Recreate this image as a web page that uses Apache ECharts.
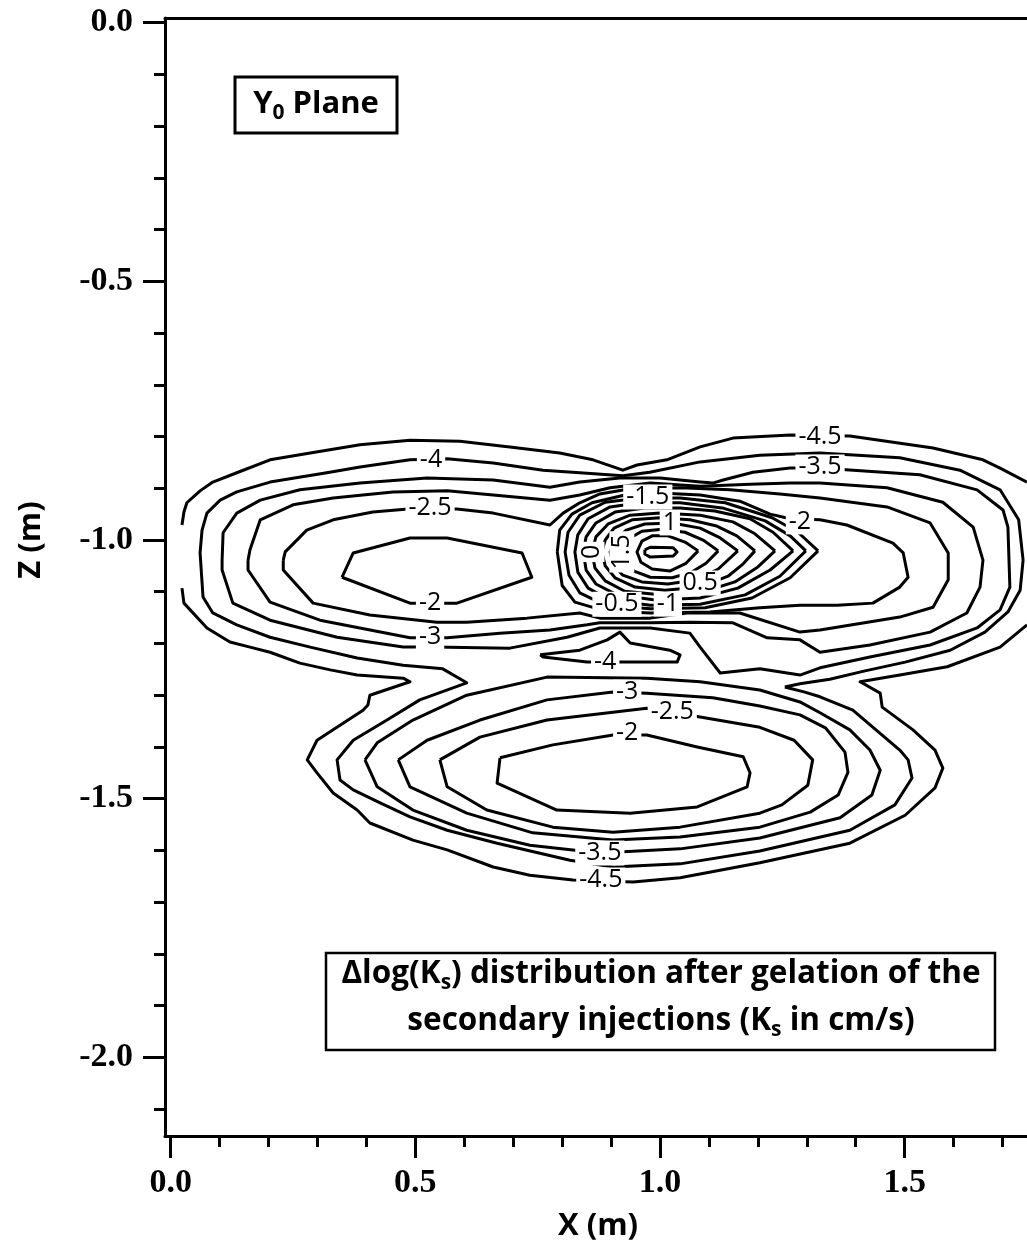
<!DOCTYPE html>
<html>
<head>
<meta charset="utf-8">
<script src="https://cdn.jsdelivr.net/npm/echarts@6/dist/echarts.min.js"></script>
<style>
  html, body { margin: 0; padding: 0; background: #fff; }
  #chart { width: 1027px; height: 1246px; }
</style>
</head>
<body>
<div id="chart"></div>
<script>
// ---- Axis extents and ticks (metres) ----
const xRange = [-0.0117, 1.75];
const zRange = [-2.152, 0.009];
const xMajorTicks = [0, 0.5, 1.0, 1.5];
const xMinorTicks = [0, 0.1, 0.2, 0.3, 0.4, 0.5, 0.6, 0.7, 0.8, 0.9, 1.0, 1.1, 1.2, 1.3, 1.4, 1.5, 1.6, 1.7];
const zMajorTicks = [0, -0.5, -1.0, -1.5, -2.0];
const zMinorTicks = [0, -0.1, -0.2, -0.3, -0.4, -0.5, -0.6, -0.7, -0.8, -0.9, -1.0, -1.1, -1.2, -1.3, -1.4, -1.5, -1.6, -1.7, -1.8, -1.9, -2.0, -2.1];

// ---- Contour polylines of delta log(Ks), each as [x, z] pairs ----
// -4.5 level: upper branch and lower branch, both cut by the domain edges
const c_m45_upper = [[0.023,-0.971],[0.027,-0.946],[0.033,-0.928],[0.060,-0.905],[0.086,-0.888],[0.135,-0.870],[0.203,-0.845],[0.285,-0.832],[0.387,-0.816],[0.489,-0.807],[0.591,-0.809],[0.693,-0.820],[0.795,-0.832],[0.863,-0.845],[0.924,-0.865],[0.953,-0.855],[1.014,-0.845],[1.082,-0.820],[1.149,-0.803],[1.266,-0.797],[1.388,-0.799],[1.558,-0.822],[1.660,-0.845],[1.695,-0.861],[1.750,-0.888]];
const c_m45_lower = [[0.023,-1.093],[0.027,-1.122],[0.074,-1.170],[0.121,-1.197],[0.162,-1.207],[0.203,-1.217],[0.264,-1.238],[0.326,-1.251],[0.381,-1.261],[0.475,-1.267],[0.489,-1.274],[0.407,-1.300],[0.403,-1.319],[0.393,-1.329],[0.299,-1.387],[0.279,-1.425],[0.299,-1.450],[0.332,-1.489],[0.381,-1.522],[0.407,-1.547],[0.495,-1.580],[0.565,-1.599],[0.659,-1.632],[0.734,-1.648],[0.822,-1.657],[0.945,-1.661],[1.041,-1.653],[1.204,-1.624],[1.388,-1.586],[1.501,-1.532],[1.562,-1.479],[1.578,-1.441],[1.562,-1.406],[1.517,-1.367],[1.454,-1.323],[1.450,-1.296],[1.409,-1.274],[1.490,-1.261],[1.587,-1.245],[1.695,-1.207],[1.750,-1.164]];
// -4 level: closed line around all lobes, and the small pocket between them
const c_m4_outer = [[1.255,-1.284],[1.286,-1.278],[1.347,-1.269],[1.419,-1.253],[1.501,-1.236],[1.593,-1.213],[1.664,-1.178],[1.711,-1.139],[1.736,-1.097],[1.742,-1.039],[1.733,-0.961],[1.695,-0.903],[1.613,-0.865],[1.490,-0.841],[1.327,-0.832],[1.204,-0.836],[1.082,-0.849],[0.979,-0.869],[0.924,-0.876],[0.836,-0.870],[0.761,-0.865],[0.659,-0.851],[0.565,-0.843],[0.489,-0.845],[0.387,-0.859],[0.319,-0.870],[0.203,-0.888],[0.135,-0.907],[0.101,-0.923],[0.074,-0.948],[0.064,-0.981],[0.060,-1.025],[0.066,-1.110],[0.086,-1.141],[0.135,-1.164],[0.203,-1.188],[0.285,-1.207],[0.381,-1.228],[0.475,-1.242],[0.556,-1.249],[0.605,-1.276],[0.509,-1.309],[0.442,-1.348],[0.373,-1.387],[0.340,-1.425],[0.346,-1.464],[0.373,-1.483],[0.428,-1.508],[0.489,-1.535],[0.565,-1.561],[0.667,-1.586],[0.816,-1.619],[0.904,-1.632],[1.041,-1.626],[1.204,-1.601],[1.388,-1.561],[1.480,-1.512],[1.515,-1.460],[1.507,-1.425],[1.490,-1.406],[1.394,-1.329],[1.327,-1.303],[1.296,-1.294],[1.255,-1.284]];
const c_m4_pocket = [[0.755,-1.222],[0.836,-1.213],[0.892,-1.193],[0.918,-1.178],[0.939,-1.199],[1.020,-1.213],[1.041,-1.222],[1.035,-1.236],[0.912,-1.236],[0.851,-1.236],[0.761,-1.226],[0.755,-1.222]];
// -3.5 level
const c_m35_upper = [[0.105,-1.039],[0.107,-0.986],[0.135,-0.948],[0.183,-0.923],[0.264,-0.903],[0.387,-0.890],[0.524,-0.880],[0.659,-0.884],[0.775,-0.898],[0.836,-0.888],[0.918,-0.880],[1.000,-0.880],[1.082,-0.888],[1.108,-0.890],[1.129,-0.884],[1.190,-0.869],[1.266,-0.861],[1.327,-0.861],[1.531,-0.874],[1.648,-0.903],[1.701,-0.942],[1.711,-0.975],[1.715,-1.091],[1.695,-1.135],[1.648,-1.170],[1.552,-1.203],[1.429,-1.226],[1.327,-1.247],[1.286,-1.261],[1.204,-1.249],[1.123,-1.257],[1.082,-1.207],[1.061,-1.180],[0.980,-1.170],[0.877,-1.170],[0.810,-1.188],[0.693,-1.209],[0.536,-1.207],[0.475,-1.207],[0.340,-1.188],[0.203,-1.155],[0.127,-1.122],[0.105,-1.058],[0.105,-1.039]];
const c_m35_lower = [[0.397,-1.425],[0.422,-1.477],[0.495,-1.522],[0.605,-1.561],[0.734,-1.590],[0.877,-1.605],[1.041,-1.597],[1.204,-1.576],[1.368,-1.537],[1.433,-1.493],[1.450,-1.445],[1.429,-1.406],[1.388,-1.367],[1.327,-1.334],[1.286,-1.313],[1.204,-1.290],[1.082,-1.274],[0.973,-1.267],[0.769,-1.265],[0.605,-1.300],[0.495,-1.348],[0.422,-1.392],[0.397,-1.425]];
// -3 level
const c_m3_upper = [[0.158,-1.039],[0.162,-1.019],[0.183,-0.961],[0.250,-0.932],[0.332,-0.919],[0.454,-0.907],[0.565,-0.905],[0.659,-0.913],[0.775,-0.923],[0.836,-0.913],[0.898,-0.899],[0.980,-0.890],[1.082,-0.896],[1.184,-0.892],[1.266,-0.890],[1.327,-0.890],[1.464,-0.899],[1.578,-0.927],[1.640,-0.975],[1.660,-1.039],[1.654,-1.091],[1.627,-1.141],[1.552,-1.178],[1.429,-1.203],[1.327,-1.217],[1.286,-1.193],[1.219,-1.189],[1.149,-1.160],[1.061,-1.159],[0.980,-1.160],[0.877,-1.160],[0.851,-1.164],[0.775,-1.174],[0.673,-1.180],[0.565,-1.189],[0.489,-1.189],[0.305,-1.155],[0.203,-1.120],[0.158,-1.058],[0.158,-1.039]];
const c_m3_lower = [[0.465,-1.425],[0.489,-1.477],[0.605,-1.528],[0.740,-1.566],[0.904,-1.580],[1.041,-1.574],[1.204,-1.555],[1.307,-1.526],[1.364,-1.493],[1.384,-1.449],[1.378,-1.410],[1.338,-1.363],[1.286,-1.338],[1.204,-1.321],[1.108,-1.305],[0.973,-1.296],[0.904,-1.294],[0.769,-1.309],[0.632,-1.348],[0.524,-1.387],[0.465,-1.425]];
// -2.5 level
const c_m25_upper = [[0.230,-1.039],[0.234,-1.023],[0.278,-0.981],[0.332,-0.961],[0.413,-0.946],[0.485,-0.940],[0.585,-0.940],[0.659,-0.948],[0.775,-0.971],[0.802,-0.948],[0.836,-0.928],[0.877,-0.911],[0.939,-0.901],[1.041,-0.899],[1.143,-0.903],[1.245,-0.911],[1.327,-0.919],[1.464,-0.936],[1.552,-0.967],[1.589,-1.025],[1.589,-1.077],[1.558,-1.130],[1.490,-1.149],[1.327,-1.174],[1.286,-1.178],[1.163,-1.141],[1.055,-1.141],[0.980,-1.151],[0.877,-1.151],[0.836,-1.141],[0.728,-1.151],[0.605,-1.159],[0.544,-1.159],[0.407,-1.145],[0.291,-1.122],[0.230,-1.058],[0.230,-1.039]];
const c_m25_lower = [[0.550,-1.425],[0.565,-1.477],[0.646,-1.522],[0.781,-1.555],[0.904,-1.565],[1.041,-1.555],[1.204,-1.528],[1.249,-1.512],[1.302,-1.474],[1.312,-1.425],[1.274,-1.387],[1.204,-1.362],[1.082,-1.342],[0.973,-1.325],[0.769,-1.348],[0.632,-1.381],[0.550,-1.425]];
// -2 level
const c_m2_left = [[0.350,-1.072],[0.373,-1.025],[0.489,-0.996],[0.565,-0.996],[0.718,-1.025],[0.738,-1.072],[0.585,-1.122],[0.489,-1.122],[0.350,-1.072]];
const c_m2_right = [[0.790,-1.023],[0.795,-0.981],[0.820,-0.950],[0.861,-0.928],[0.928,-0.913],[1.000,-0.909],[1.082,-0.913],[1.163,-0.925],[1.225,-0.950],[1.266,-0.959],[1.327,-0.961],[1.382,-0.971],[1.476,-1.006],[1.497,-1.025],[1.507,-1.072],[1.490,-1.091],[1.435,-1.122],[1.362,-1.126],[1.286,-1.126],[1.204,-1.131],[1.102,-1.139],[0.980,-1.141],[0.887,-1.137],[0.826,-1.120],[0.800,-1.088],[0.790,-1.023]];
const c_m2_lower = [[0.673,-1.421],[0.781,-1.396],[0.904,-1.377],[0.973,-1.377],[1.076,-1.400],[1.170,-1.419],[1.184,-1.450],[1.178,-1.477],[1.076,-1.516],[0.939,-1.528],[0.789,-1.522],[0.667,-1.470],[0.673,-1.421]];
// central peak, -1.5 up to 2.5
const c_m15 = [[1.323,-1.021],[1.282,-0.985],[1.229,-0.957],[1.133,-0.928],[1.041,-0.919],[0.959,-0.919],[0.888,-0.927],[0.836,-0.952],[0.812,-0.985],[0.806,-1.023],[0.814,-1.068],[0.836,-1.102],[0.888,-1.126],[0.980,-1.133],[1.092,-1.131],[1.188,-1.112],[1.266,-1.073],[1.323,-1.021]];
const c_m1 = [[1.298,-1.021],[1.266,-0.992],[1.215,-0.963],[1.127,-0.938],[1.041,-0.928],[0.959,-0.928],[0.898,-0.936],[0.853,-0.959],[0.832,-0.990],[0.826,-1.023],[0.832,-1.062],[0.853,-1.093],[0.898,-1.116],[0.980,-1.126],[1.082,-1.124],[1.174,-1.106],[1.245,-1.070],[1.298,-1.021]];
const c_m05 = [[1.272,-1.021],[1.231,-0.985],[1.184,-0.959],[1.112,-0.944],[1.041,-0.938],[0.969,-0.938],[0.908,-0.946],[0.869,-0.967],[0.849,-0.994],[0.843,-1.023],[0.849,-1.058],[0.869,-1.085],[0.912,-1.106],[0.990,-1.116],[1.082,-1.112],[1.159,-1.093],[1.225,-1.058],[1.272,-1.021]];
const c_0 = [[1.235,-1.021],[1.194,-0.988],[1.149,-0.965],[1.082,-0.952],[1.000,-0.948],[0.939,-0.952],[0.894,-0.969],[0.869,-0.994],[0.861,-1.023],[0.867,-1.054],[0.888,-1.079],[0.928,-1.099],[1.000,-1.106],[1.082,-1.102],[1.153,-1.081],[1.200,-1.052],[1.235,-1.021]];
const c_05 = [[1.194,-1.021],[1.157,-0.992],[1.116,-0.973],[1.061,-0.961],[1.000,-0.957],[0.943,-0.961],[0.906,-0.977],[0.888,-1.000],[0.881,-1.023],[0.888,-1.050],[0.908,-1.073],[0.949,-1.091],[1.010,-1.097],[1.082,-1.091],[1.139,-1.070],[1.170,-1.046],[1.194,-1.021]];
const c_1 = [[1.159,-1.021],[1.123,-0.996],[1.082,-0.977],[1.025,-0.967],[0.969,-0.969],[0.931,-0.981],[0.908,-1.000],[0.898,-1.023],[0.904,-1.048],[0.924,-1.068],[0.963,-1.081],[1.016,-1.085],[1.076,-1.077],[1.119,-1.056],[1.159,-1.021]];
const c_15 = [[1.119,-1.021],[1.088,-1.000],[1.051,-0.985],[1.004,-0.979],[0.963,-0.983],[0.939,-0.996],[0.926,-1.010],[0.922,-1.023],[0.928,-1.043],[0.947,-1.060],[0.980,-1.072],[1.025,-1.073],[1.065,-1.062],[1.094,-1.045],[1.119,-1.021]];
const c_2 = [[1.078,-1.021],[1.051,-1.004],[1.016,-0.992],[0.984,-0.992],[0.963,-1.002],[0.953,-1.023],[0.961,-1.043],[0.984,-1.056],[1.020,-1.060],[1.053,-1.045],[1.078,-1.021]];
const c_25 = [[0.969,-1.019],[0.980,-1.014],[1.027,-1.015],[1.035,-1.023],[1.027,-1.031],[0.980,-1.033],[0.969,-1.027],[0.969,-1.019]];

// level of each polyline
const contourLevels = [
  [-4.5, c_m45_upper], [-4.5, c_m45_lower],
  [-4, c_m4_outer], [-4, c_m4_pocket],
  [-3.5, c_m35_upper], [-3.5, c_m35_lower],
  [-3, c_m3_upper], [-3, c_m3_lower],
  [-2.5, c_m25_upper], [-2.5, c_m25_lower],
  [-2, c_m2_left], [-2, c_m2_right], [-2, c_m2_lower],
  [-1.5, c_m15], [-1, c_m1], [-0.5, c_m05], [0, c_0],
  [0.5, c_05], [1, c_1], [1.5, c_15], [2, c_2], [2.5, c_25]
];

// in-line level labels: [x, z, level, rotation in degrees]
const contourLabels = [
  [1.327, -0.801, -4.5, 0], [1.327, -0.859, -3.5, 0],
  [0.532, -0.845, -4, 0], [0.530, -0.938, -2.5, 0],
  [0.530, -1.122, -2, 0], [0.530, -1.188, -3, 0],
  [0.975, -0.917, -1.5, 0], [1.020, -0.967, 1, 0],
  [0.922, -1.023, 1.5, 90], [0.861, -1.023, 0, 90],
  [1.082, -1.083, 0.5, 0], [0.912, -1.124, -0.5, 0],
  [1.016, -1.124, -1, 0], [1.286, -0.965, -2, 0],
  [0.888, -1.236, -4, 0], [0.933, -1.294, -3, 0],
  [1.025, -1.333, -2.5, 0], [0.933, -1.373, -2, 0],
  [0.877, -1.605, -3.5, 0], [0.879, -1.657, -4.5, 0]
];

const INK = '#000';
const axisLineStyle = { color: INK, width: 3 };
const tickFont = { color: INK, fontFamily: '"Liberation Serif", serif', fontWeight: 'bold', fontSize: 34 };
const sansBold = '"Open Sans", "DejaVu Sans", sans-serif';

function xAxisDef(extra) {
  return Object.assign({
    type: 'value', min: xRange[0], max: xRange[1],
    splitLine: { show: false }, axisLabel: { show: false },
    axisTick: { show: false }, axisLine: { show: false, onZero: false }
  }, extra);
}
function yAxisDef(extra) {
  return Object.assign({
    type: 'value', min: zRange[0], max: zRange[1],
    splitLine: { show: false }, axisLabel: { show: false },
    axisTick: { show: false }, axisLine: { show: false, onZero: false }
  }, extra);
}

const lineSeries = contourLevels.map(([level, pts]) => ({
  type: 'line',
  name: 'dlogKs ' + level,
  data: pts,
  xAxisIndex: 0, yAxisIndex: 0,
  showSymbol: false, symbol: 'none', silent: true, clip: true,
  lineStyle: { color: INK, width: 3, join: 'round' },
  z: 2
}));

// level labels sit on the lines with a white patch behind them
const labelSeries = {
  type: 'custom',
  coordinateSystem: 'cartesian2d',
  xAxisIndex: 0, yAxisIndex: 0,
  silent: true,
  clip: false,
  data: contourLabels,
  renderItem: (params, api) => {
    const pt = api.coord([api.value(0), api.value(1)]);
    const rot = api.value(3) * Math.PI / 180;
    return {
      type: 'text',
      x: pt[0], y: pt[1], rotation: rot,
      z2: 10,
      style: {
        text: String(api.value(2)),
        fill: INK,
        font: '25px "Open Sans", sans-serif',
        backgroundColor: '#fff',
        padding: [0, 3],
        align: 'center', verticalAlign: 'middle',
        textAlign: 'center', textVerticalAlign: 'middle'
      }
    };
  },
  z: 5
};

const chart = echarts.init(document.getElementById('chart'), null, { renderer: 'canvas' });
chart.setOption({
  animation: false,
  backgroundColor: '#fff',
  grid: { left: 165, top: 18, right: 0, bottom: 110, containLabel: false },
  xAxis: [
    xAxisDef({
      position: 'bottom',
      axisLine: { show: true, onZero: false, lineStyle: axisLineStyle },
      axisTick: { show: true, inside: false, length: 22, lineStyle: axisLineStyle, customValues: xMajorTicks },
      axisLabel: Object.assign({ show: true, margin: 30, customValues: xMajorTicks, formatter: v => v.toFixed(1) }, tickFont)
    }),
    xAxisDef({
      position: 'bottom',
      axisTick: { show: true, inside: false, length: 11, lineStyle: axisLineStyle, customValues: xMinorTicks }
    }),
    xAxisDef({
      position: 'top',
      axisLine: { show: true, onZero: false, lineStyle: axisLineStyle }
    })
  ],
  yAxis: [
    yAxisDef({
      position: 'left',
      axisLine: { show: true, onZero: false, lineStyle: axisLineStyle },
      axisTick: { show: true, inside: false, length: 22, lineStyle: axisLineStyle, customValues: zMajorTicks },
      axisLabel: Object.assign({ show: true, margin: 32, customValues: zMajorTicks, formatter: v => v.toFixed(1) }, tickFont)
    }),
    yAxisDef({
      position: 'left',
      axisTick: { show: true, inside: false, length: 11, lineStyle: axisLineStyle, customValues: zMinorTicks }
    })
  ],
  series: lineSeries.concat([labelSeries]),
  graphic: [
    { type: 'text', x: 31, y: 540, rotation: Math.PI / 2, z: 10,
      style: { text: 'Z (m)', fill: INK, font: 'bold 31px ' + sansBold, align: 'center', verticalAlign: 'middle', textAlign: 'center', textVerticalAlign: 'middle' } },
    { type: 'text', x: 598, y: 1226, z: 10,
      style: { text: 'X (m)', fill: INK, font: 'bold 31px ' + sansBold, align: 'center', verticalAlign: 'middle', textAlign: 'center', textVerticalAlign: 'middle' } },
    { type: 'rect', z: 10, shape: { x: 235, y: 77, width: 162, height: 56 },
      style: { fill: '#fff', stroke: INK, lineWidth: 3 } },
    { type: 'text', x: 316, y: 104, z: 11,
      style: {
        text: '{b|Y}{s|0}{b| Plane}', fill: INK, align: 'center', verticalAlign: 'middle', textAlign: 'center', textVerticalAlign: 'middle',
        rich: {
          b: { font: 'bold 31px ' + sansBold, fill: INK, lineHeight: 40, verticalAlign: 'middle' },
          s: { font: 'bold 21px ' + sansBold, fill: INK, lineHeight: 40, verticalAlign: 'bottom' }
        }
      } },
    { type: 'rect', z: 10, shape: { x: 326, y: 953, width: 669, height: 97 },
      style: { fill: '#fff', stroke: INK, lineWidth: 2.5 } },
    { type: 'text', x: 661, y: 974, z: 11,
      style: {
        text: '{b|\u0394log(K}{s|s}{b|) distribution after gelation of the}', fill: INK, align: 'center', verticalAlign: 'middle', textAlign: 'center', textVerticalAlign: 'middle',
        rich: {
          b: { font: 'bold 31.5px ' + sansBold, fill: INK, lineHeight: 40, verticalAlign: 'middle' },
          s: { font: 'bold 21px ' + sansBold, fill: INK, lineHeight: 40, verticalAlign: 'bottom' }
        }
      } },
    { type: 'text', x: 661, y: 1021, z: 11,
      style: {
        text: '{b|secondary injections (K}{s|s}{b| in cm/s)}', fill: INK, align: 'center', verticalAlign: 'middle', textAlign: 'center', textVerticalAlign: 'middle',
        rich: {
          b: { font: 'bold 31.5px ' + sansBold, fill: INK, lineHeight: 40, verticalAlign: 'middle' },
          s: { font: 'bold 21px ' + sansBold, fill: INK, lineHeight: 40, verticalAlign: 'bottom' }
        }
      } }
  ]
});
</script>
</body>
</html>
